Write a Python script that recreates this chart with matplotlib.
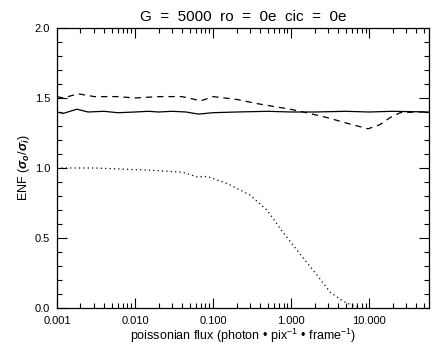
import numpy as np
import matplotlib
matplotlib.use('Agg')
import matplotlib.pyplot as plt
from matplotlib.ticker import FixedLocator, LogLocator, NullFormatter, MultipleLocator

plt.rcParams['font.family'] = ['Liberation Sans', 'DejaVu Sans']
plt.rcParams['mathtext.fontset'] = 'custom'
plt.rcParams['mathtext.rm'] = 'Liberation Sans'
plt.rcParams['mathtext.it'] = 'Liberation Sans:italic:bold'

# curva continua
flux_solid = [0.001, 0.0012, 0.0018, 0.0025, 0.004, 0.006, 0.01, 0.015, 0.02, 0.03,
              0.045, 0.065, 0.1, 0.2, 0.5, 1.0, 2.0, 5.0, 10.0, 20.0, 58.6]
enf_solid = [1.40, 1.39, 1.42, 1.40, 1.405, 1.395, 1.40, 1.405, 1.40, 1.405,
             1.40, 1.385, 1.395, 1.40, 1.405, 1.40, 1.40, 1.405, 1.40, 1.405, 1.40]

# curva tracejada
flux_dash = [0.001, 0.0012, 0.00186, 0.003, 0.006, 0.01, 0.02, 0.04, 0.07, 0.1,
             0.2, 0.366, 0.97, 1.43, 2.9, 5.2, 9.7, 13.8, 18.6, 25.0, 40.0, 58.6]
enf_dash = [1.51, 1.50, 1.53, 1.51, 1.51, 1.50, 1.51, 1.51, 1.48, 1.51,
            1.49, 1.46, 1.42, 1.40, 1.36, 1.32, 1.28, 1.31, 1.36, 1.395, 1.40, 1.40]

# curva pontilhada
flux_dot = [0.001, 0.003, 0.0147, 0.040, 0.064, 0.084, 0.156, 0.298, 0.49, 0.79,
            1.43, 2.15, 3.16, 4.64, 5.6, 6.6, 7.7]
enf_dot = [1.0, 1.0, 0.985, 0.97, 0.935, 0.94, 0.886, 0.807, 0.70, 0.54,
           0.357, 0.236, 0.114, 0.048, 0.028, 0.014, 0.004]

xticks = [0.001, 0.01, 0.1, 1.0, 10.0]
xticklabels = ['0.001', '0.010', '0.100', '1.000', '10.000']
yticks = [0.0, 0.5, 1.0, 1.5, 2.0]
yticklabels = ['0.0', '0.5', '1.0', '1.5', '2.0']

fig = plt.figure(figsize=(4.44, 3.5), dpi=100)
ax = fig.add_axes([57/444, 1 - 308/350, (429 - 57)/444, (308 - 28)/350])

ax.plot(flux_solid, enf_solid, color='black', lw=0.9)
ax.plot(flux_dash, enf_dash, color='black', lw=0.9, linestyle=(0, (5, 4)))
ax.plot(flux_dot, enf_dot, color='black', lw=0.9, linestyle=(0, (1, 2.5)))

ax.set_xscale('log')
ax.set_xlim(0.001, 58.6)
ax.set_ylim(0, 2.0)

ax.xaxis.set_major_locator(FixedLocator(xticks))
ax.set_xticklabels(xticklabels)
ax.xaxis.set_minor_locator(LogLocator(base=10, subs=np.arange(2, 10)))
ax.xaxis.set_minor_formatter(NullFormatter())
ax.set_yticks(yticks)
ax.set_yticklabels(yticklabels)
ax.yaxis.set_minor_locator(MultipleLocator(0.1))

ax.tick_params(which='both', direction='in', top=True, right=True,
               labelsize=8, width=0.8, color='black')
ax.tick_params(axis='x', pad=6)
ax.tick_params(axis='y', pad=5)
ax.tick_params(which='major', length=7)
ax.tick_params(which='minor', length=3.5)
for s in ax.spines.values():
    s.set_linewidth(0.9)

ax.set_title('G  =  5000  ro  =  0e  cic  =  0e', fontsize=11, pad=5)
ax.set_xlabel('poissonian flux (photon$\\ $\u2022$\\ $pix$^{-1}\\ $\u2022$\\ $frame$^{-1}$)',
              fontsize=9, labelpad=0)
ax.set_ylabel(r'ENF ($\sigma_o$/$\sigma_i$)', fontsize=9, labelpad=2)

fig.savefig('out.png', dpi=100)
